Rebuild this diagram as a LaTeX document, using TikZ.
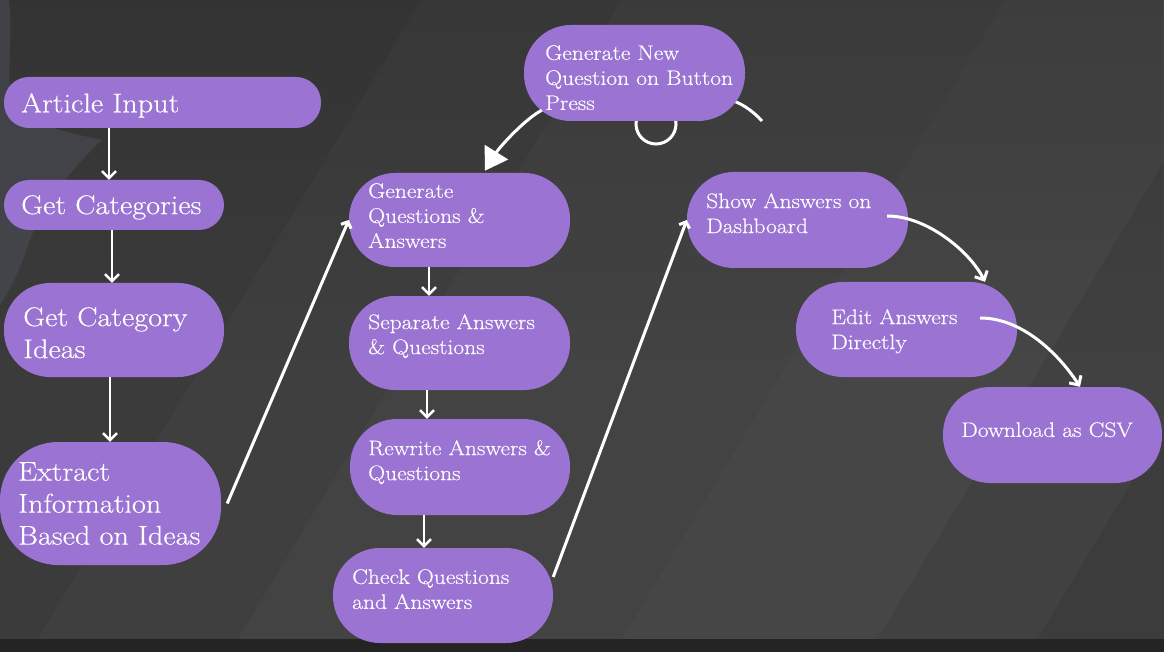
\documentclass[tikz,border=0pt]{standalone}
\usepackage{fontspec}
\setmainfont{Latin Modern Roman}[FakeStretch=1.12,FakeBold=0.35]
\usetikzlibrary{arrows.meta,fadings}
\definecolor{purp}{HTML}{9B73D2}
\definecolor{bgA}{HTML}{3B3B3B}
\definecolor{bgB}{HTML}{3F3F3F}
\definecolor{bgC}{HTML}{434343}
\definecolor{bgD}{HTML}{464646}
\definecolor{bgE}{HTML}{414141}
\definecolor{bgF}{HTML}{3C3C3C}
\definecolor{strip}{HTML}{242424}
\definecolor{leaf}{HTML}{4A4C55}
\begin{document}
\begin{tikzpicture}[x=1pt,y=-1pt,
  box/.style={fill=purp, draw=none, inner sep=0pt, rectangle},
  bigtxt/.style={text=white, font=\fontsize{27}{32}\selectfont, inner sep=0pt, anchor=north west, align=left},
  smalltxt/.style={text=white, font=\fontsize{21}{25}\selectfont, inner sep=0pt, anchor=north west, align=left},
  arr/.style={white, line width=2.5pt, -{Straight Barb[length=7pt,width=14pt]}},
  longarr/.style={white, line width=3pt, -{Straight Barb[length=5pt,width=11pt]}},
  curvarr/.style={white, line width=3pt, -{Straight Barb[length=7pt,width=14pt]}},
  bigarr/.style={white, line width=3pt, -{Triangle[length=22pt,width=27pt]}},
  deco/.style={white, line width=3pt}
]
\useasboundingbox (0,0) rectangle (1164,652);
% background
\begin{scope}
\clip (0,0) rectangle (1164,652);
\fill[bgA] (0,0) rectangle (1164,652);
\fill[bgB] (30,652) -- (230,652) -- (621,0) -- (421,0) -- cycle;
\fill[bgC] (230,652) -- (614,652) -- (1005,0) -- (621,0) -- cycle;
\fill[bgD] (614,652) -- (870,652) -- (1261,0) -- (1005,0) -- cycle;
\fill[bgE] (870,652) -- (1030,652) -- (1421,0) -- (1261,0) -- cycle;
\fill[bgF] (1030,652) -- (1400,652) -- (1791,0) -- (1421,0) -- cycle;
\fill[black, opacity=0.12, path fading=south] (0,0) rectangle (1164,360);
\fill[leaf, opacity=0.6] (0,0) -- (9,0) .. controls (14,40) and (4,80) .. (14,110)
   .. controls (40,128) and (80,135) .. (102,140)
   .. controls (80,160) and (45,200) .. (30,240)
   .. controls (20,270) and (10,290) .. (0,305) -- cycle;
\fill[strip] (0,639) rectangle (1164,652);
\end{scope}

% fragments behind the top node
\draw[deco] (656,124) ellipse [x radius=20pt, y radius=20pt];
\draw[deco] (725,98) .. controls (740,102) and (752,110) .. (762,121);

% boxes
\node[box, minimum width=317pt, minimum height=51pt, rounded corners=25pt] (art) at (162.5,102.5) {};
\node[box, minimum width=220pt, minimum height=50pt, rounded corners=25pt] (cat) at (114,205) {};
\node[box, minimum width=220pt, minimum height=94pt, rounded corners=46pt] (ide) at (114,330) {};
\node[box, minimum width=221pt, minimum height=123pt, rounded corners=58pt] (ext) at (110.5,503.5) {};
\node[box, minimum width=221pt, minimum height=96pt, rounded corners=47pt] (gnq) at (634.5,73) {};
\node[box, minimum width=221pt, minimum height=94pt, rounded corners=46pt] (gqa) at (459.5,220) {};
\node[box, minimum width=221pt, minimum height=94pt, rounded corners=46pt] (sep) at (459.5,343) {};
\node[box, minimum width=220pt, minimum height=96pt, rounded corners=47pt] (rew) at (460,467) {};
\node[box, minimum width=220pt, minimum height=95pt, rounded corners=47pt] (chk) at (443,595.5) {};
\node[box, minimum width=221pt, minimum height=96pt, rounded corners=47pt] (shw) at (797.5,220) {};
\node[box, minimum width=221pt, minimum height=95pt, rounded corners=47pt] (edt) at (906.5,329.5) {};
\node[box, minimum width=219pt, minimum height=96pt, rounded corners=47pt] (dwn) at (1052.5,435) {};

% texts
\node[bigtxt] (tart) at (21,93) {Article Input};
\node[bigtxt] (tcat) at (21,195) {Get Categories};
\node[bigtxt] (tide) at (23,307) {Get Category\\Ideas};
\node[bigtxt] (text) at (18,462) {Extract\\Information\\Based on Ideas};
\node[smalltxt] (tgnq) at (545,45) {Generate New\\Question on Button\\Press};
\node[smalltxt] (tgqa) at (368,183) {Generate\\Questions \&\\Answers};
\node[smalltxt] (tsep) at (368,314) {Separate Answers\\\& Questions};
\node[smalltxt] (trew) at (368,440) {Rewrite Answers \&\\Questions};
\node[smalltxt] (tchk) at (352,569) {Check Questions\\and Answers};
\node[smalltxt] (tshw) at (706,193) {Show Answers on\\Dashboard};
\node[smalltxt] (tedt) at (831,309) {Edit Answers\\Directly};
\node[smalltxt] (tdwn) at (961,422) {Download as CSV};

% connectors
\draw[arr] ([xshift=-53.5pt]art.south) -- ([xshift=-53.5pt]art.south |- cat.north);
\draw[arr] ([xshift=-2pt]cat.south) -- ([xshift=-2pt]cat.south |- ide.north);
\draw[arr] ([xshift=-4pt]ide.south) -- ([xshift=-4pt]ide.south |- ext.north);
\draw[longarr] ([xshift=6pt]ext.east) -- (gqa.west);
\draw[arr] ([xshift=-30.5pt]gqa.south) -- ([xshift=-30.5pt]gqa.south |- sep.north);
\draw[arr] ([xshift=-32.5pt]sep.south) -- ([xshift=-32.5pt]sep.south |- rew.north);
\draw[arr] ([xshift=-36pt]rew.south) -- ([xshift=-36pt]rew.south |- chk.north);
\draw[longarr] ([yshift=18.5pt]chk.east) -- (shw.west);
\draw[curvarr] ([xshift=-21pt,yshift=4pt]shw.east) .. controls +(40,0) and +(-15,-30) .. ([xshift=78.5pt]edt.north);
\draw[curvarr] ([xshift=-37pt,yshift=11.5pt]edt.east) .. controls +(45,0) and +(-18,-28) .. ([xshift=27.5pt]dwn.north);
\draw[bigarr] ([xshift=18pt,yshift=11pt]gnq.south west) .. controls +(-17,9) and +(15,-24) .. ([xshift=136pt,yshift=2pt]gqa.north west);
\end{tikzpicture}
\end{document}
